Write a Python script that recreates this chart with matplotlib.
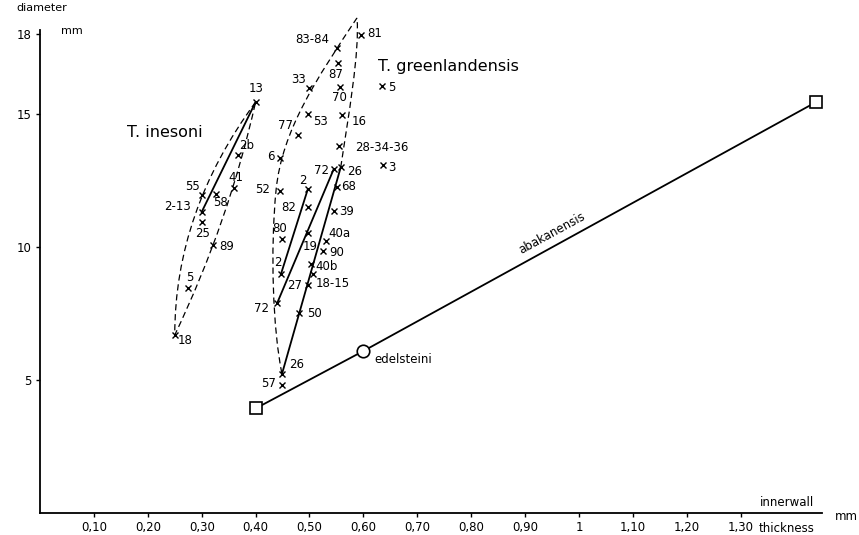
import matplotlib
matplotlib.use("Agg")
import matplotlib.pyplot as plt
import numpy as np
from matplotlib.path import Path
from matplotlib.patches import PathPatch

# T. inesoni specimens: innerwall thickness (mm) vs diameter (mm)
ines_labels = ["13", "2b", "41", "55", "58", "2-13", "25", "89", "5", "18"]
ines_x = [0.40, 0.367, 0.36, 0.30, 0.327, 0.30, 0.30, 0.321, 0.275, 0.25]
ines_y = [15.45, 13.46, 12.22, 11.95, 11.99, 11.32, 10.94, 10.08, 8.46, 6.69]

# T. greenlandensis specimens
green_labels = ["81", "83-84", "87", "70", "33", "5", "53", "16", "77", "28-34-36",
                "6", "3", "72", "26", "68", "52", "2", "82", "39", "80",
                "19", "40a", "90", "2", "40b", "18-15", "27", "72", "50", "26", "57"]
green_x = [0.596, 0.551, 0.553, 0.557, 0.499, 0.635, 0.497, 0.56, 0.479, 0.555,
           0.445, 0.636, 0.545, 0.558, 0.551, 0.445, 0.497, 0.497, 0.545, 0.449,
           0.497, 0.53, 0.525, 0.447, 0.503, 0.506, 0.497, 0.44, 0.48, 0.449, 0.449]
green_y = [17.97, 17.48, 16.92, 16.02, 15.98, 16.05, 15.0, 14.97, 14.21, 13.8,
           13.35, 13.08, 12.93, 13.0, 12.26, 12.1, 12.18, 11.5, 11.35, 10.3,
           10.53, 10.23, 9.85, 8.98, 9.36, 8.98, 8.57, 7.89, 7.52, 5.23, 4.81]

# growth lines between specimens (index pairs)
ines_links = [(0, 5)]
green_links = [(16, 23), (12, 27), (13, 29)]

# abakanensis -> edelsteini line
abak_x = [0.40, 0.60, 1.44]
abak_y = [3.93, 6.09, 15.45]
abak_markers = ["s", "o", "s"]

xticks = [0.1, 0.2, 0.3, 0.4, 0.5, 0.6, 0.7, 0.8, 0.9, 1.0, 1.1, 1.2, 1.3]
xtick_labels = ["0,10", "0,20", "0,30", "0,40", "0,50", "0,60", "0,70", "0,80",
                "0,90", "1", "1,10", "1,20", "1,30"]
yticks = [5, 10, 15, 18]

# label offsets in pixels (layout only)
ines_off = [(1, 14), (9, 10), (2, 10), (-9, 9), (4, -8), (-24, 5), (1, -11),
            (14, -2), (2, 10), (10, -5)]
green_off = [(13, 2), (-25, 9), (-2, -12), (-1, -11), (-10, 8), (10, -1), (13, -7),
             (17, -7), (-13, 10), (43, -2), (-9, 1), (9, -2), (-12, -1), (14, -4),
             (12, 0), (-17, 2), (-5, 9), (-19, 0), (13, 0), (-2, 11), (2, -14),
             (14, 7), (14, -1), (-3, 12), (15, -2), (20, -9), (-13, 0), (-16, -5),
             (16, -1), (15, 9), (-13, 2)]

plt.rcParams["font.family"] = "DejaVu Sans"
fig = plt.figure(figsize=(8.59, 5.35), dpi=100)
ax = fig.add_axes([40 / 859, 22 / 535, 781.5 / 859, 483 / 535])
ax.set_xlim(0, 1.45)
ax.set_ylim(0, 18.16)

for s in ["top", "right"]:
    ax.spines[s].set_visible(False)
for s in ["left", "bottom"]:
    ax.spines[s].set_linewidth(1.3)

ax.set_xticks(xticks)
ax.set_xticklabels(xtick_labels, fontsize=8.5)
ax.set_yticks(yticks)
ax.set_yticklabels([str(v) for v in yticks], fontsize=8.5)
ax.tick_params(length=3, width=1, pad=3)

# dashed outlines
dash = (0, (5, 3))
ines_outline = Path(
    [(ines_x[0], ines_y[0]), (0.250, 11.32), (ines_x[9], ines_y[9]),
     (0.351, 10.98), (ines_x[0], ines_y[0])],
    [Path.MOVETO, Path.CURVE3, Path.CURVE3, Path.CURVE3, Path.CURVE3])
green_outline = Path(
    [(green_x[13], green_y[13]), (0.571, 14.77), (0.594, 17.41), (0.588, 18.61),
     (0.514, 16.35), (0.449, 14.40), (0.438, 12.14),
     (0.427, 9.89), (0.432, 6.88), (green_x[29], green_y[29])],
    [Path.MOVETO, Path.CURVE4, Path.CURVE4, Path.CURVE4,
     Path.CURVE4, Path.CURVE4, Path.CURVE4,
     Path.CURVE4, Path.CURVE4, Path.CURVE4])
for p in [ines_outline, green_outline]:
    ax.add_patch(PathPatch(p, fill=False, lw=0.9, ls=dash, color="black", clip_on=False))

# solid growth lines
for a, b in ines_links:
    ax.plot([ines_x[a], ines_x[b]], [ines_y[a], ines_y[b]], color="black", lw=1.3)
for a, b in green_links:
    ax.plot([green_x[a], green_x[b]], [green_y[a], green_y[b]], color="black", lw=1.3)

ax.plot(ines_x, ines_y, "x", color="black", ms=4.5, mew=1)
ax.plot(green_x, green_y, "x", color="black", ms=4.5, mew=1, clip_on=False)

for lab, x, y, off in zip(ines_labels, ines_x, ines_y, ines_off):
    ax.annotate(lab, (x, y), xytext=off, textcoords="offset pixels",
                ha="center", va="center", fontsize=8.5)
for lab, x, y, off in zip(green_labels, green_x, green_y, green_off):
    ax.annotate(lab, (x, y), xytext=off, textcoords="offset pixels",
                ha="center", va="center", fontsize=8.5)

# abakanensis line
ax.plot(abak_x, abak_y, color="black", lw=1.3, zorder=3)
for x, y, m in zip(abak_x, abak_y, abak_markers):
    ax.plot(x, y, m, ms=9 if m == "o" else 8.5, mfc="white", mec="black",
            mew=1.2, zorder=4, clip_on=False)
ax.annotate("edelsteini", (abak_x[1], abak_y[1]), xytext=(11, -8),
            textcoords="offset pixels", ha="left", va="center", fontsize=8.5)

p1 = ax.transData.transform((abak_x[0], abak_y[0]))
p2 = ax.transData.transform((abak_x[2], abak_y[2]))
angle = np.degrees(np.arctan2(p2[1] - p1[1], p2[0] - p1[0]))
tx = 0.96
ty = np.interp(tx, [abak_x[0], abak_x[2]], [abak_y[0], abak_y[2]])
ax.annotate("abakanensis", (tx, ty), xytext=(-5, 10), textcoords="offset pixels",
            ha="center", va="center", rotation=angle, fontsize=8.5)

ax.text(0.232, 14.29, "T. inesoni", ha="center", va="center", fontsize=11.5)
ax.text(0.627, 16.8, "T. greenlandensis", ha="left", va="center", fontsize=11.5)

fig.text(42 / 859, 1 - 8 / 535, "diameter", ha="center", va="center", fontsize=8)
fig.text(72 / 859, 1 - 31 / 535, "mm", ha="center", va="center", fontsize=8)
fig.text(787 / 859, 1 - 503 / 535, "innerwall", ha="center", va="center", fontsize=8.5)
fig.text(787 / 859, 1 - 528 / 535, "thickness", ha="center", va="center", fontsize=8.5)
fig.text(846 / 859, 1 - 516 / 535, "mm", ha="center", va="center", fontsize=8.5)

fig.savefig("out.png", dpi=100)
